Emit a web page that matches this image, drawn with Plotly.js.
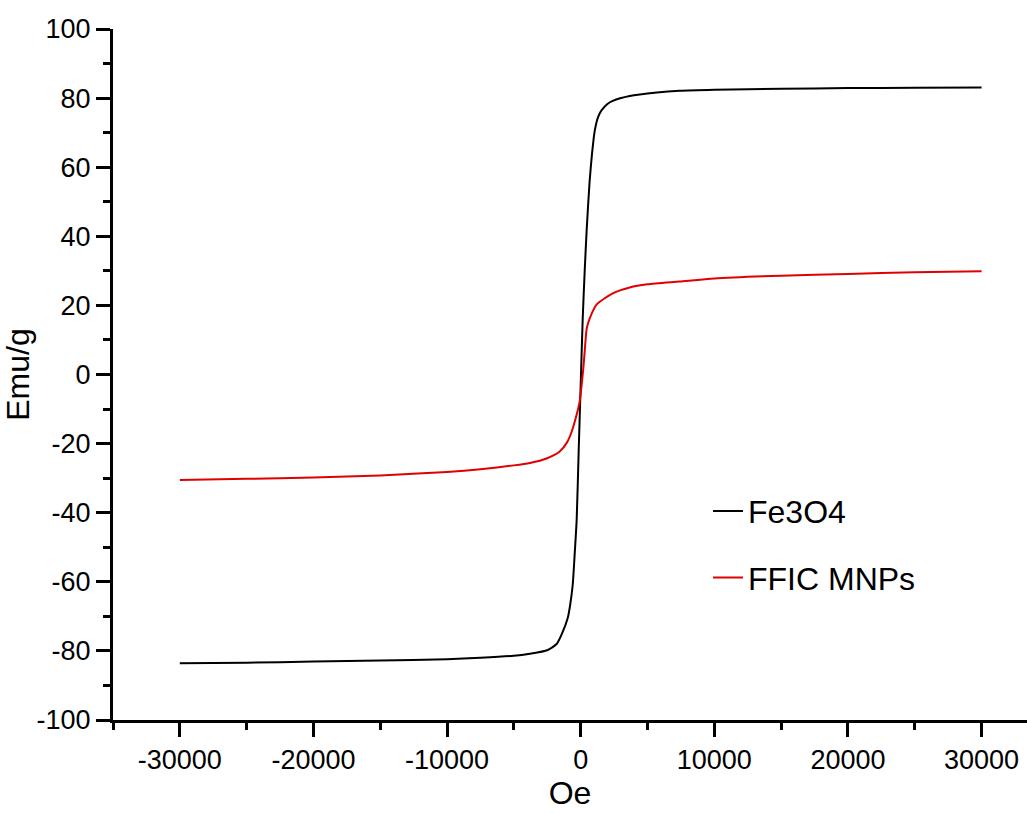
<!DOCTYPE html>
<html>
<head>
<meta charset="utf-8">
<script src="https://cdn.plot.ly/plotly-3.0.1.min.js"></script>
<style>html,body{margin:0;padding:0;background:#fff;}#chart{width:1027px;height:814px;}</style>
</head>
<body>
<div id="chart"></div>
<script>
// Fe3O4 magnetization curve
const fe3o4Field = [-30000,-25000,-20000,-15000,-10000,-7500,-5000,-3800,-2500,-1800,-1400,-970,-800,-600,-450,-300,-150,0,150,300,450,670,850,1050,1300,1570,2000,2400,3670,5700,7400,10000,15000,20000,25000,30000];
const fe3o4Moment = [-83.6,-83.4,-83.1,-82.8,-82.4,-82.0,-81.4,-80.8,-79.8,-78.0,-75.0,-70.5,-67.0,-61.0,-52.0,-42.0,-22.0,-3.0,16.0,30.0,42.0,56.0,64.0,70.5,74.5,76.5,78.3,79.2,80.6,81.6,82.1,82.4,82.7,82.9,83.0,83.1];
// FFIC MNPs magnetization curve
const ffciField = [-30000,-25000,-20000,-15000,-10000,-7500,-5000,-3800,-2550,-1570,-1000,-670,-300,-75,100,200,300,450,670,1200,2400,3670,5000,7400,10000,15000,20000,25000,30000];
const ffciMoment = [-30.5,-30.2,-29.8,-29.2,-28.2,-27.4,-26.3,-25.6,-24.3,-22.3,-19.5,-16.5,-11.6,-7.8,-2.0,2.0,6.7,13.3,16.2,20.3,23.5,25.2,26.1,26.9,27.8,28.6,29.1,29.6,29.9];
const seriesNames = ["Fe3O4", "FFIC MNPs"];
const xTickVals = [-30000,-20000,-10000,0,10000,20000,30000];
const yTickVals = [-100,-80,-60,-40,-20,0,20,40,60,80,100];

const FONT = "Liberation Sans, Arial, sans-serif";

const traces = [
  {x: fe3o4Field, y: fe3o4Moment, name: seriesNames[0], mode: "lines", type: "scatter",
   line: {color: "#000000", width: 2, shape: "spline", smoothing: 0.6}, legendgroup: "a"},
  {x: ffciField, y: ffciMoment, name: seriesNames[1], mode: "lines", type: "scatter",
   line: {color: "#e00000", width: 2, shape: "spline", smoothing: 0.6}, legendgroup: "b"}
];

const axisCommon = {
  showgrid: false, zeroline: false, showline: true, linecolor: "#000", linewidth: 3,
  ticks: "outside", ticklen: 14, tickwidth: 3, tickcolor: "#000",
  tickfont: {family: FONT, size: 27, color: "#000"}
};

const layout = {
  width: 1027, height: 814,
  paper_bgcolor: "#fff", plot_bgcolor: "#fff",
  margin: {l: 113, r: 0, t: 29, b: 94},
  font: {family: FONT, color: "#000"},
  xaxis: Object.assign({}, axisCommon, {
    range: [-35000, 33400], tickvals: xTickVals, ticktext: xTickVals.map(String),
    minor: {ticks: "outside", ticklen: 7, tickwidth: 3, tickcolor: "#000", dtick: 5000, tick0: 0},
    title: {text: "Oe", font: {family: FONT, size: 32}, standoff: 6}
  }),
  yaxis: Object.assign({}, axisCommon, {
    range: [-100, 100], tickvals: yTickVals, ticktext: yTickVals.map(String),
    minor: {ticks: "outside", ticklen: 7, tickwidth: 3, tickcolor: "#000", dtick: 10, tick0: 0},
    title: {text: "Emu/g", font: {family: FONT, size: 32}, standoff: 4}
  }),
  showlegend: true,
  legend: {x: 0.651, y: 0.342, xanchor: "left", yanchor: "top", bgcolor: "rgba(0,0,0,0)",
           font: {family: FONT, size: 32, color: "#000"}, traceorder: "grouped", tracegroupgap: 22}
};

Plotly.newPlot("chart", traces, layout, {displayModeBar: false, staticPlot: true});
</script>
</body>
</html>
